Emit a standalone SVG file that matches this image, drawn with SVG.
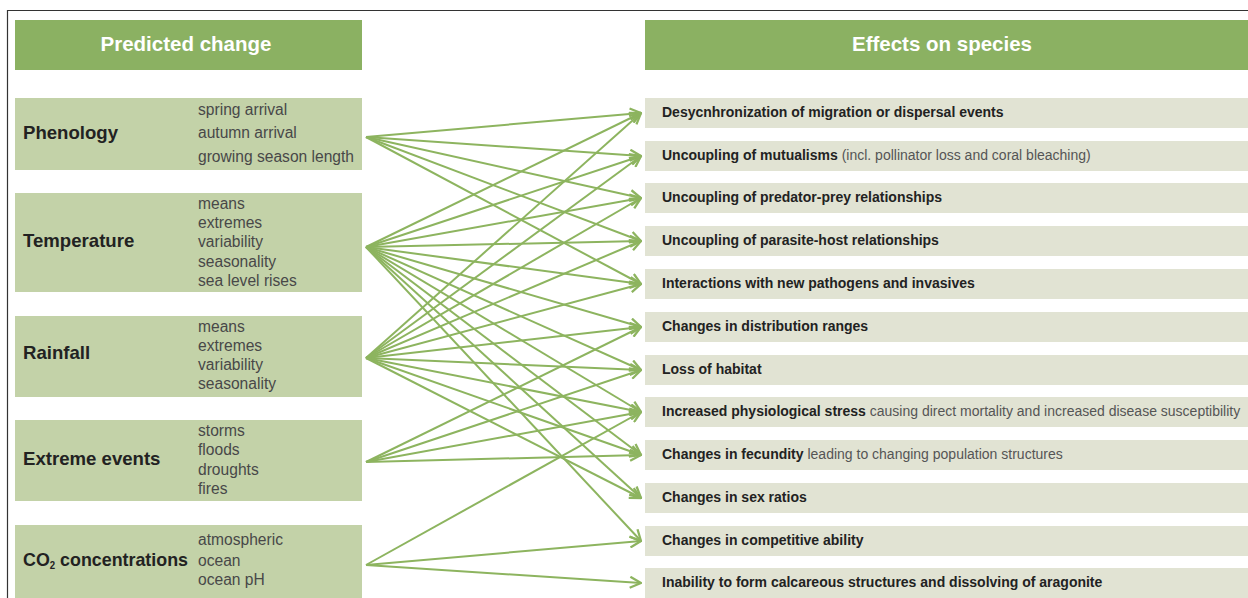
<svg xmlns="http://www.w3.org/2000/svg" width="1248" height="598" viewBox="0 0 1248 598">
<defs>
<style>
.hdr{fill:#8BB162}
.hdrt{font-family:"Liberation Sans",Arial,sans-serif;font-weight:bold;font-size:20.5px;fill:#fff;text-anchor:middle}
.lbox{fill:#C3D2A8}
.ttl{font-family:"Liberation Sans",Arial,sans-serif;font-weight:bold;font-size:18.6px;fill:#222}
.sub{font-family:"Liberation Sans",Arial,sans-serif;font-size:15.6px;fill:#484848}
.rbox{fill:#E1E3D3}
.rt{font-family:"Liberation Sans",Arial,sans-serif;font-size:14px;fill:#555}
.b{font-weight:bold;fill:#222}
.con line{stroke:#8DB45F;stroke-width:2;marker-end:url(#ah)}
</style>
<marker id="ah" viewBox="0 0 13 13" refX="12" refY="6.5" markerWidth="13" markerHeight="13" markerUnits="userSpaceOnUse" orient="auto">
<path d="M1,1 L12,6.5 L1,12" fill="none" stroke="#8DB45F" stroke-width="2.3"/>
</marker>
</defs>
<rect width="1248" height="598" fill="#fff"/>
<path d="M7.5,598 V10.5 H1248" fill="none" stroke="#333" stroke-width="1.2"/>

<g id="hdr-left"><rect class="hdr" x="15" y="20" width="347" height="50"/><text class="hdrt" x="186" y="51">Predicted change</text></g>
<g id="hdr-right"><rect class="hdr" x="645" y="20" width="603" height="50"/><text class="hdrt" x="942" y="51">Effects on species</text></g>

<g id="phenology"><rect class="lbox" x="15" y="98" width="347" height="72"/>
<text class="ttl" x="23" y="139">Phenology</text>
<text class="sub" x="198" y="115">spring arrival</text><text class="sub" x="198" y="138">autumn arrival</text><text class="sub" x="198" y="162">growing season length</text></g>

<g id="temperature"><rect class="lbox" x="15" y="193" width="347" height="99"/>
<text class="ttl" x="23" y="247">Temperature</text>
<text class="sub" x="198" y="209">means</text><text class="sub" x="198" y="228">extremes</text><text class="sub" x="198" y="247">variability</text><text class="sub" x="198" y="267">seasonality</text><text class="sub" x="198" y="286">sea level rises</text></g>

<g id="rainfall"><rect class="lbox" x="15" y="316" width="347" height="81"/>
<text class="ttl" x="23" y="359">Rainfall</text>
<text class="sub" x="198" y="332">means</text><text class="sub" x="198" y="351">extremes</text><text class="sub" x="198" y="370">variability</text><text class="sub" x="198" y="389">seasonality</text></g>

<g id="extreme"><rect class="lbox" x="15" y="420" width="347" height="81"/>
<text class="ttl" x="23" y="465">Extreme events</text>
<text class="sub" x="198" y="436">storms</text><text class="sub" x="198" y="455">floods</text><text class="sub" x="198" y="475">droughts</text><text class="sub" x="198" y="494">fires</text></g>

<g id="co2"><rect class="lbox" x="15" y="525" width="347" height="73"/>
<text class="ttl" x="23" y="566" textLength="165" lengthAdjust="spacingAndGlyphs">CO<tspan font-size="10" dy="3">2</tspan><tspan dy="-3"> concentrations</tspan></text>
<text class="sub" x="198" y="545">atmospheric</text><text class="sub" x="198" y="566">ocean</text><text class="sub" x="198" y="585">ocean pH</text></g>

<g id="e1"><rect class="rbox" x="645" y="98" width="603" height="30"/><text class="rt" x="662" y="117"><tspan class="b">Desycnhronization of migration or dispersal events</tspan></text></g>
<g id="e2"><rect class="rbox" x="645" y="141" width="603" height="30"/><text class="rt" x="662" y="160"><tspan class="b">Uncoupling of mutualisms</tspan> (incl. pollinator loss and coral bleaching)</text></g>
<g id="e3"><rect class="rbox" x="645" y="183" width="603" height="30"/><text class="rt" x="662" y="202"><tspan class="b">Uncoupling of predator-prey relationships</tspan></text></g>
<g id="e4"><rect class="rbox" x="645" y="226" width="603" height="30"/><text class="rt" x="662" y="245"><tspan class="b">Uncoupling of parasite-host relationships</tspan></text></g>
<g id="e5"><rect class="rbox" x="645" y="269" width="603" height="30"/><text class="rt" x="662" y="288"><tspan class="b">Interactions with new pathogens and invasives</tspan></text></g>
<g id="e6"><rect class="rbox" x="645" y="312" width="603" height="30"/><text class="rt" x="662" y="331"><tspan class="b">Changes in distribution ranges</tspan></text></g>
<g id="e7"><rect class="rbox" x="645" y="355" width="603" height="30"/><text class="rt" x="662" y="374"><tspan class="b">Loss of habitat</tspan></text></g>
<g id="e8"><rect class="rbox" x="645" y="397" width="603" height="30"/><text class="rt" x="662" y="416"><tspan class="b">Increased physiological stress</tspan> causing direct mortality and increased disease susceptibility</text></g>
<g id="e9"><rect class="rbox" x="645" y="440" width="603" height="30"/><text class="rt" x="662" y="459"><tspan class="b">Changes in fecundity</tspan> leading to changing population structures</text></g>
<g id="e10"><rect class="rbox" x="645" y="483" width="603" height="30"/><text class="rt" x="662" y="502"><tspan class="b">Changes in sex ratios</tspan></text></g>
<g id="e11"><rect class="rbox" x="645" y="526" width="603" height="30"/><text class="rt" x="662" y="545"><tspan class="b">Changes in competitive ability</tspan></text></g>
<g id="e12"><rect class="rbox" x="645" y="568" width="603" height="30"/><text class="rt" x="662" y="587"><tspan class="b">Inability to form calcareous structures and dissolving of aragonite</tspan></text></g>

<g id="connectors" class="con">
<line x1="366" y1="137" x2="641" y2="113"/>
<line x1="366" y1="137" x2="641" y2="156"/>
<line x1="366" y1="137" x2="641" y2="198"/>
<line x1="366" y1="137" x2="641" y2="241"/>
<line x1="366" y1="137" x2="641" y2="284"/>

<line x1="366" y1="247" x2="641" y2="113"/>
<line x1="366" y1="247" x2="641" y2="156"/>
<line x1="366" y1="247" x2="641" y2="198"/>
<line x1="366" y1="247" x2="641" y2="241"/>
<line x1="366" y1="247" x2="641" y2="284"/>
<line x1="366" y1="247" x2="641" y2="327"/>
<line x1="366" y1="247" x2="641" y2="370"/>
<line x1="366" y1="247" x2="641" y2="412"/>
<line x1="366" y1="247" x2="641" y2="455"/>
<line x1="366" y1="247" x2="641" y2="498"/>
<line x1="366" y1="247" x2="641" y2="541"/>

<line x1="366" y1="358" x2="641" y2="113"/>
<line x1="366" y1="358" x2="641" y2="156"/>
<line x1="366" y1="358" x2="641" y2="198"/>
<line x1="366" y1="358" x2="641" y2="241"/>
<line x1="366" y1="358" x2="641" y2="284"/>
<line x1="366" y1="358" x2="641" y2="327"/>
<line x1="366" y1="358" x2="641" y2="370"/>
<line x1="366" y1="358" x2="641" y2="412"/>
<line x1="366" y1="358" x2="641" y2="455"/>
<line x1="366" y1="358" x2="641" y2="498"/>

<line x1="366" y1="462" x2="641" y2="327"/>
<line x1="366" y1="462" x2="641" y2="370"/>
<line x1="366" y1="462" x2="641" y2="412"/>
<line x1="366" y1="462" x2="641" y2="455"/>

<line x1="366" y1="565" x2="641" y2="412"/>
<line x1="366" y1="565" x2="641" y2="541"/>
<line x1="366" y1="565" x2="641" y2="583"/>
</g>
</svg>
